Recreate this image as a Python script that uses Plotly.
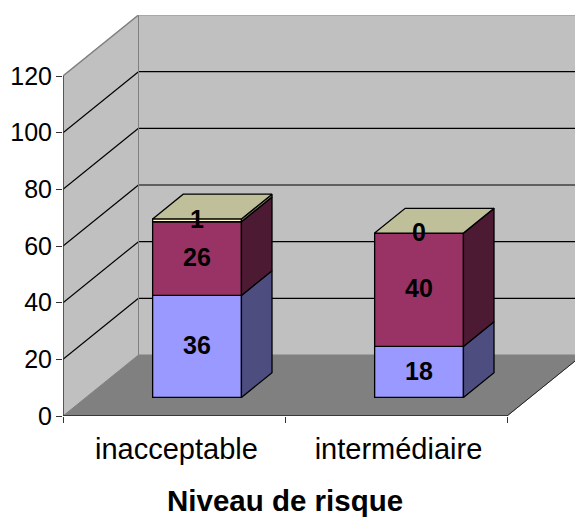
import plotly.graph_objects as go

categories = ["inacceptable", "intermédiaire"]
serie_bas = [36, 18]
serie_milieu = [26, 40]
serie_haut = [1, 0]
y_ticks = [0, 20, 40, 60, 80, 100, 120]
axis_title = "Niveau de risque"

FONT = "Liberation Sans"
W, H = 575, 517
L, R, T, B = 63, 0, 15, 101
PX_X = 222.0
PX_Y = (H - T - B - 61) / 120.0
DX = 75.5 / PX_X          # oblique depth offset in x units
DY = 61 / PX_Y            # oblique depth offset in y units
D0, D1 = 0.305, 0.71      # bar depth span
BW = 0.4                  # bar width
xs = [1, 2]
X0, X1 = 0.5, 2.5
EDGE = 1.3


def proj(x, y, d):
    return x + d * DX, y + d * DY


def path(points):
    return "M " + " L ".join(f"{x:.4f},{y:.4f}" for x, y in points) + " Z"


shapes = []


def poly(points, fill, line=None, w=1):
    shapes.append(dict(type="path", path=path(points), xref="x", yref="y", layer="below",
                       fillcolor=fill, line=dict(color=line or fill, width=w)))


def seg(p, q, color, w=1):
    shapes.append(dict(type="line", xref="x", yref="y", layer="below",
                       x0=p[0], y0=p[1], x1=q[0], y1=q[1], line=dict(color=color, width=w)))


XMAX = X0 + (W - L - R) / PX_X
YMAX = 120 + DY
# back wall, side wall, floor
poly([proj(X0, 0, 1), proj(X1, 0, 1), proj(X1, 120, 1), proj(X0, 120, 1)], "#C0C0C0")
poly([proj(X0, 0, 0), proj(X0, 0, 1), proj(X0, 120, 1), proj(X0, 120, 0)], "#C0C0C0")
for v in y_ticks[1:-1]:
    seg(proj(X0, v, 0), proj(X0, v, 1), "#000000", 1.2)
    seg(proj(X0, v, 1), proj(X1, v, 1), "#000000", 1.2)
seg(proj(X0, 0, 1), proj(X0, 120, 1), "#808080", 1)
seg(proj(X0, 120, 0), proj(X0, 120, 1), "#808080", 1.5)
seg(proj(X0, 120, 1), proj(X1, 120, 1), "#A0A0A0", 1.5)
poly([proj(X0, 0, 0), proj(X1, 0, 0), proj(X1, 0, 1), proj(X0, 0, 1)], "#808080")
seg(proj(X1, 0, 0), proj(X1, 0, 1), "#222222", 1)

fig = go.Figure()
series = [
    ("Bas", serie_bas, "#9999FF", "#4D4D80"),
    ("Milieu", serie_milieu, "#993366", "#4D1A33"),
    ("Haut", serie_haut, "#FFFFCC", "#808066"),
]
cum = [0, 0]
xc = [x + D0 * DX for x in xs]
y0_bar = D0 * DY
label_x, label_y, label_t = [], [], []
side_traces = []
for name, vals, front, side in series:
    fig.add_trace(go.Bar(x=xc, y=vals, base=[y0_bar + c for c in cum], width=BW, name=name,
                         marker=dict(color=front, line=dict(color="#000000", width=EDGE)),
                         showlegend=False, hoverinfo="skip"))
    for i, v in enumerate(vals):
        x_r = xs[i] + BW / 2
        a, b = cum[i], cum[i] + v
        pts = [proj(x_r, a, D0), proj(x_r, b, D0), proj(x_r, b, D1), proj(x_r, a, D1), proj(x_r, a, D0)]
        side_traces.append(go.Scatter(x=[p[0] for p in pts], y=[p[1] for p in pts], mode="lines",
                                      fill="toself", fillcolor=side, line=dict(color="#000000", width=EDGE),
                                      showlegend=False, hoverinfo="skip"))
        label_x.append(xc[i])
        label_y.append(y0_bar + (a + b) / 2 - 0.5)
        label_t.append(str(v))
        cum[i] = b
for i in range(2):
    xa, xb, h = xs[i] - BW / 2, xs[i] + BW / 2, cum[i]
    pts = [proj(xa, h, D0), proj(xb, h, D0), proj(xb, h, D1), proj(xa, h, D1), proj(xa, h, D0)]
    side_traces.append(go.Scatter(x=[p[0] for p in pts], y=[p[1] for p in pts], mode="lines",
                                  fill="toself", fillcolor="#BFBF99", line=dict(color="#000000", width=EDGE),
                                  showlegend=False, hoverinfo="skip"))
fig.add_traces(side_traces)
# axis lines
fig.add_trace(go.Scatter(x=[X0, X0], y=[0, 120], mode="lines", line=dict(color="#333333", width=1.5),
                         showlegend=False, hoverinfo="skip"))
fig.add_trace(go.Scatter(x=[X0, X1], y=[0, 0], mode="lines", line=dict(color="#222222", width=1.5),
                         showlegend=False, hoverinfo="skip", cliponaxis=False))
fig.add_trace(go.Scatter(x=label_x, y=label_y, text=label_t, mode="text", textposition="middle center",
                         textfont=dict(family=FONT, size=25, color="#000000"),
                         texttemplate="<b>%{text}</b>", showlegend=False, hoverinfo="skip"))

fig.update_layout(
    width=W, height=H, margin=dict(l=L, r=R, t=T, b=B, pad=0),
    paper_bgcolor="#FFFFFF", plot_bgcolor="#FFFFFF", barmode="overlay",
    shapes=shapes, showlegend=False,
    font=dict(family=FONT, color="#000000"),
    xaxis=dict(range=[X0, XMAX], tickmode="array", tickvals=[x + 0.011 for x in xs], ticktext=categories, ticks="",
               showgrid=False, zeroline=False, showline=False, ticklabelstandoff=13,
               tickfont=dict(family=FONT, size=29),
               minor=dict(tickmode="array", tickvals=[0.5, 1.5, 2.5], ticks="outside", ticklen=6,
                          tickwidth=1.3, tickcolor="#333333", showgrid=False)),
    yaxis=dict(range=[0, YMAX], tickmode="array", tickvals=y_ticks, ticks="outside", ticklen=6, tickwidth=1.3,
               tickcolor="#333333", showgrid=False, zeroline=False, showline=False, ticklabelstandoff=-1,
               tickfont=dict(family=FONT, size=25)),
    annotations=[dict(text=f"<b>{axis_title}</b>", x=1.5, y=-0.21, xref="x", yref="paper",
                      xanchor="center", yanchor="middle", showarrow=False,
                      font=dict(family=FONT, size=29.5))],
)
fig.write_html("out.html", config={"displayModeBar": False}, post_script="document.body.style.margin='0';")
